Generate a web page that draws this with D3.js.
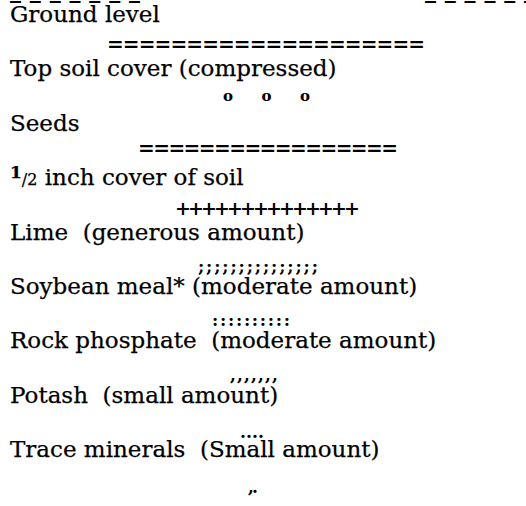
<!DOCTYPE html>
<html>
<head>
<meta charset="utf-8">
<script src="https://cdn.jsdelivr.net/npm/d3@7"></script>
<style>
  html, body { margin: 0; padding: 0; background: #fff; }
  svg { display: block; }
  text { white-space: pre; }
</style>
</head>
<body>
<div id="chart"></div>
<script>
// layer names, top to bottom
const layers = [
  "Ground level",
  "Top soil cover (compressed)",
  "Seeds",
  "1/2 inch cover of soil",
  "Lime  (generous amount)",
  "Soybean meal* (moderate amount)",
  "Rock phosphate  (moderate amount)",
  "Potash  (small amount)",
  "Trace minerals  (Small amount)"
];
// symbol row drawn under each layer
const marks = [
  "====================",
  "o   o   o",
  "=================",
  "++++++++++++++",
  ";;;;;;;;;;;;;;;",
  "::::::::::",
  ",,,,,,,",
  "....",
  ",."
];
const topRule = ["_______", "______"];

const width = 526, height = 506;
const svg = d3.select("#chart").append("svg")
  .attr("width", width).attr("height", height);

// baseline of each label
const y = d3.scalePoint().domain(layers).range([22, 457]);
const step = y.step();

// symbol rows: left/right edges in px, vertical nudge, font size
const markX = [[107, 425], [223, 310], [138, 398], [175, 360], [198, 318], [212, 290], [230, 278], [240, 264], [248, 258]];
const markDy = [2, -3, -3, 3, 5, 5, 6, 8, 9];
const markSize = [20, 15, 20, 19, 17, 17, 17, 17, 17];

const serif = "'DejaVu Serif', serif";

// cut-off rule at the very top
svg.selectAll("text.rule")
  .data(topRule)
  .enter().append("text")
  .attr("class", "rule")
  .attr("x", (d, i) => i === 0 ? 10 : 425)
  .attr("y", -2)
  .attr("textLength", (d, i) => i === 0 ? 130 : 110)
  .attr("lengthAdjust", "spacing")
  .style("font-family", serif)
  .style("font-weight", "bold")
  .style("font-size", "22px")
  .text(d => d);

// labels
const lab = svg.selectAll("text.layer")
  .data(layers)
  .enter().append("text")
  .attr("class", "layer")
  .attr("x", 10)
  .attr("y", d => y(d))
  .attr("xml:space", "preserve")
  .style("font-family", serif)
  .style("font-size", "23px")
  .style("fill", "#000")
  .style("stroke", "#000")
  .style("stroke-width", 0.25);

lab.each(function(d) {
  const t = d3.select(this);
  if (d.startsWith("1/2")) {
    t.append("tspan").style("font-weight", "bold").style("font-size", "17px").attr("dy", -7).text("1");
    t.append("tspan").style("font-size", "16px").attr("dy", 7).text("/2");
    t.append("tspan").text(d.slice(3));
  } else {
    t.text(d);
  }
});

// symbol rows
svg.selectAll("text.mark")
  .data(marks)
  .enter().append("text")
  .attr("class", "mark")
  .attr("x", (d, i) => markX[i][0])
  .attr("y", (d, i) => y(layers[i]) + step / 2 + markDy[i])
  .attr("textLength", (d, i) => markX[i][1] - markX[i][0])
  .attr("lengthAdjust", "spacing")
  .attr("xml:space", "preserve")
  .style("font-family", serif)
  .style("font-weight", "bold")
  .style("font-size", (d, i) => markSize[i] + "px")
  .text(d => d);
</script>
</body>
</html>
